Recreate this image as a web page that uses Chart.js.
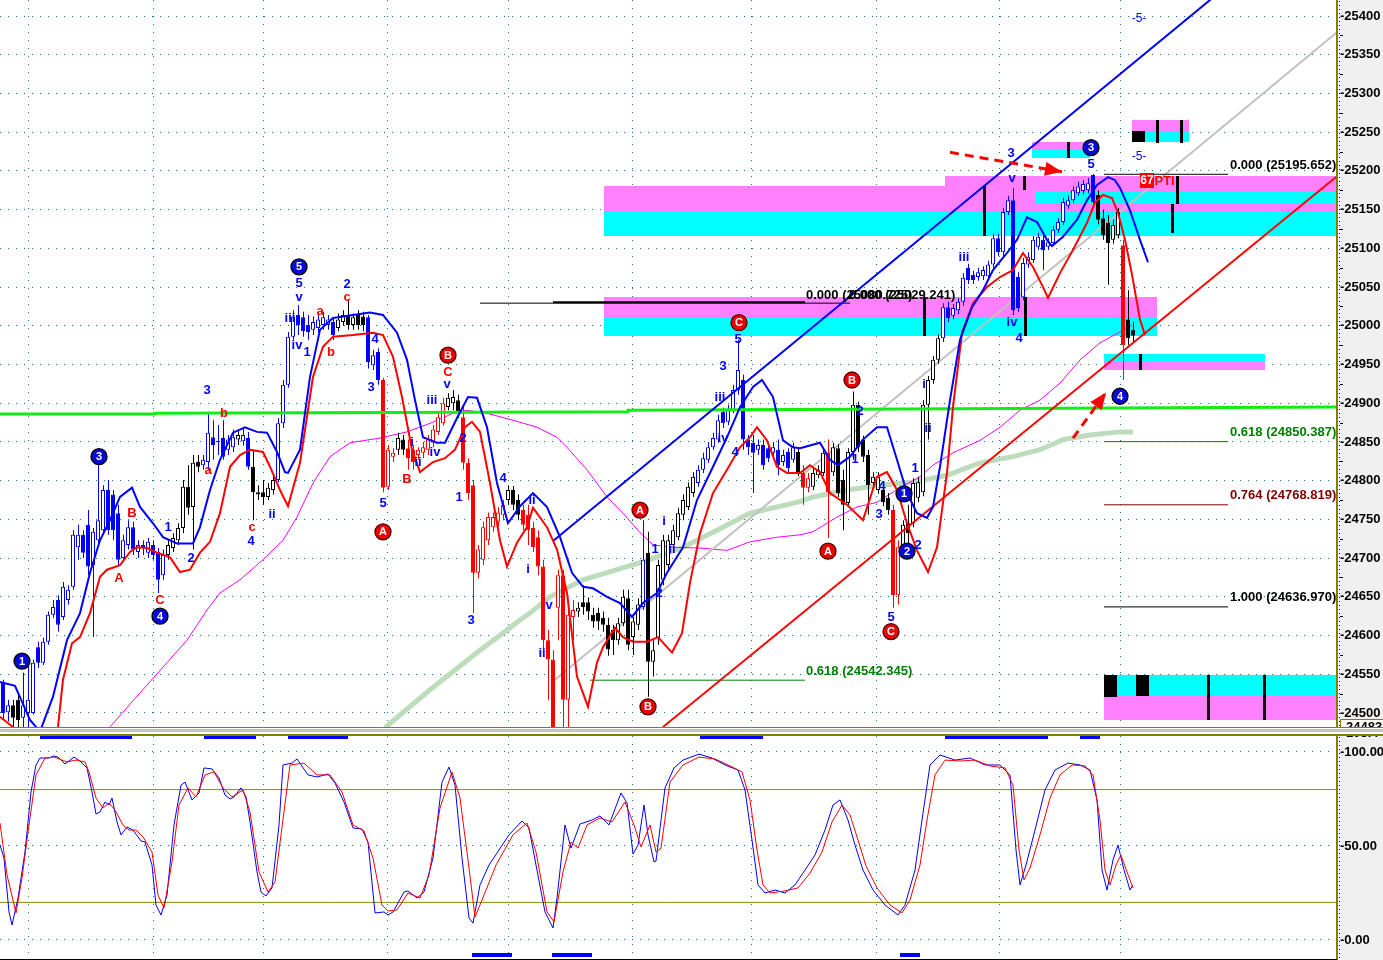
<!DOCTYPE html>
<html>
<head>
<meta charset="utf-8">
<title>Elliott wave count</title>
<script src="https://cdn.jsdelivr.net/npm/chart.js@4.4.1/dist/chart.umd.min.js"></script>
<style>
  html, body { margin: 0; padding: 0; background: #ffffff; }
  #wrap { position: relative; width: 1383px; height: 960px; overflow: hidden; background: #ffffff; }
  canvas { position: absolute; left: 0; }
  #price { top: 0; }
  #stoch { top: 736px; }
  .rule { position: absolute; left: 0; width: 1383px; }
</style>
</head>
<body>
<div id="wrap">
  <canvas id="price" width="1383" height="727"></canvas>
  <div class="rule" style="top:727px;height:1px;background:#808000"></div>
  <div class="rule" style="top:729px;height:3px;background:#c4c4c4"></div>
  <div class="rule" style="top:734px;height:2px;background:#808000"></div>
  <canvas id="stoch" width="1383" height="224"></canvas>
</div>
<script>
// ===== Bars (one entry per bar, index = time) =====
const trend = ("BBKKBBBBBB" + "BBBBBBBBBB" + "BBBBBBBBBB" + "BBBKKKKKKK" + "BBBBBBBKBB" +
  "KKKKKBBBBB" + "BBBBBBBKKK" + "KKKBBBRRRK" + "KRRRRRRRRK" + "KKRRRRRRRR" +
  "RKKKRRRRRR" + "RRRRRKKKKK" + "KKKKKKKKBK" + "KKKKKKKKKB" + "BBBBBBBBBB" +
  "BBBBBBBBBK" + "RRKKKRKKKK" + "KKKKKKKKRR" + "KKKKKKKKBB" + "BBBBBBBBBB" +
  "BBBBBBBBBB" + "BBBBBBBBBK" + "KKKKRKK").split("");

const opens = [
  24539,24501,24510,24517,24494,24500,24500,24585,24565,24592,
  24627,24646,24624,24646,24663,24714,24730,24743,24691,24723,
  24736,24788,24782,24758,24700,24717,24740,24708,24717,24707,
  24717,24708,24678,24704,24713,24723,24739,24792,24766,24824,
  24820,24824,24856,24850,24855,24840,24843,24853,24851,24855,
  24818,24785,24785,24779,24788,24801,24874,24924,24986,25014,
  25011,25001,24995,24997,25001,25001,25005,24997,25005,25013,
  25001,25014,25012,25011,24949,24966,24930,24792,24831,24840,
  24853,24842,24840,24833,24836,24840,24849,24863,24874,24895,
  24900,24904,24882,24823,24794,24681,24698,24723,24740,24747,
  24756,24775,24788,24775,24762,24756,24739,24727,24689,24594,
  24569,24636,24678,24517,24624,24631,24643,24643,24627,24629,
  24623,24614,24607,24594,24616,24648,24598,24614,24637,24707,
  24566,24597,24672,24691,24717,24727,24756,24766,24784,24797,
  24814,24827,24843,24853,24889,24876,24891,24917,24930,24853,
  24849,24840,24846,24842,24836,24840,24824,24837,24827,24837,
  24810,24791,24792,24807,24810,24836,24811,24842,24801,24771,
  24837,24898,24853,24833,24797,24788,24788,24778,24762,24652,
  24717,24745,24745,24778,24785,24898,24930,24956,24984,25024,
  25013,25020,25031,25075,25066,25063,25064,25064,25079,25113,
  25095,25147,25162,25063,25037,25079,25085,25102,25111,25102,
  25107,25124,25134,25155,25162,25171,25174,25175,25195,25169,
  25139,25133,25111,25117,25104,25008,24995];

const highs = [
  24543,24517,24517,24526,24552,24565,24569,24592,24597,24631,
  24646,24652,24669,24665,24736,24743,24736,24762,24739,24823,
  24794,24801,24788,24769,24730,24749,24747,24723,24723,24726,
  24723,24713,24711,24723,24732,24745,24801,24820,24833,24833,
  24833,24889,24878,24872,24878,24859,24866,24866,24868,24863,
  24840,24794,24801,24797,24807,24881,24930,24992,25020,25027,
  25018,25014,25012,25014,25018,25014,25011,25016,25020,25033,
  25016,25020,25018,25014,24969,24971,24933,24846,24842,24862,
  24859,24853,24846,24843,24850,24859,24872,24889,24907,24913,
  24917,24911,24898,24829,24801,24717,24747,24759,24759,24766,
  24775,24794,24793,24782,24769,24769,24747,24736,24698,24607,
  24581,24685,24685,24646,24646,24643,24665,24649,24636,24636,
  24631,24623,24614,24623,24659,24659,24624,24648,24749,24734,
  24594,24698,24730,24730,24743,24765,24782,24798,24811,24820,
  24836,24850,24862,24885,24894,24898,24924,24982,24937,24859,
  24859,24853,24853,24849,24850,24853,24840,24842,24849,24842,
  24820,24810,24816,24820,24842,24853,24849,24847,24814,24842,
  24915,24902,24858,24840,24811,24811,24794,24784,24769,24723,
  24749,24769,24803,24805,24904,24935,24961,24989,25029,25031,
  25028,25036,25068,25080,25071,25075,25077,25084,25119,25119,
  25152,25168,25178,25069,25088,25095,25116,25120,25121,25113,
  25129,25139,25165,25168,25180,25186,25188,25191,25196,25175,
  25150,25143,25137,25152,25111,25046,25005];

const lows = [
  24491,24489,24482,24482,24482,24482,24498,24558,24562,24588,
  24623,24605,24620,24640,24659,24698,24700,24678,24598,24717,
  24730,24730,24723,24691,24695,24711,24704,24700,24704,24700,
  24698,24655,24672,24698,24708,24717,24732,24756,24711,24811,
  24814,24814,24827,24833,24827,24833,24837,24846,24845,24814,
  24749,24775,24769,24775,24782,24798,24868,24920,24982,24988,
  24986,24982,24988,24991,24995,24995,24982,24993,25000,24995,
  24995,24995,24993,24945,24943,24924,24785,24788,24824,24833,
  24833,24814,24814,24827,24829,24833,24843,24859,24871,24891,
  24891,24881,24814,24775,24629,24674,24691,24717,24734,24740,
  24749,24769,24762,24749,24736,24717,24708,24678,24581,24517,
  24465,24594,24481,24478,24594,24624,24627,24620,24610,24607,
  24605,24574,24575,24588,24612,24581,24575,24607,24633,24521,
  24547,24588,24665,24685,24711,24723,24749,24762,24779,24792,
  24810,24823,24840,24849,24868,24872,24887,24911,24840,24833,
  24784,24833,24814,24824,24829,24807,24819,24810,24823,24806,
  24769,24785,24788,24803,24806,24726,24806,24779,24736,24766,
  24827,24837,24824,24756,24792,24783,24767,24756,24636,24640,
  24713,24717,24740,24772,24780,24853,24925,24951,24979,25005,
  25008,25015,25026,25054,25054,25058,25059,25059,25075,25090,
  25090,25143,25014,25018,25033,25075,25081,25098,25072,25098,
  25103,25120,25130,25151,25159,25168,25170,25171,25156,25131,
  25111,25053,25106,25113,24930,24975,24979];

const closes = [
  24500,24510,24494,24491,24510,24517,24565,24565,24592,24627,
  24637,24614,24663,24659,24730,24730,24707,24689,24734,24749,
  24788,24736,24736,24698,24723,24740,24711,24717,24713,24721,
  24704,24672,24704,24717,24726,24739,24792,24765,24823,24818,
  24827,24862,24846,24851,24831,24853,24856,24859,24859,24818,
  24785,24782,24779,24791,24801,24874,24924,24986,25012,25001,
  24993,24992,25005,25008,25011,25008,24988,25008,25014,25001,
  25011,25001,25001,24953,24962,24930,24791,24840,24836,24855,
  24840,24829,24824,24840,24843,24853,24866,24882,24900,24907,
  24908,24887,24823,24784,24681,24711,24740,24753,24753,24759,
  24769,24788,24769,24756,24743,24736,24714,24689,24594,24569,
  24472,24678,24517,24627,24633,24636,24637,24631,24618,24618,
  24614,24582,24594,24616,24650,24588,24618,24640,24698,24566,
  24581,24691,24723,24723,24736,24758,24775,24792,24805,24814,
  24829,24843,24855,24878,24874,24891,24917,24943,24853,24843,
  24836,24846,24820,24829,24843,24820,24833,24816,24843,24811,
  24791,24803,24810,24814,24836,24785,24843,24784,24769,24837,
  24898,24843,24831,24794,24805,24805,24772,24762,24652,24714,
  24743,24732,24797,24798,24898,24930,24956,24984,25024,25010,
  25023,25031,25062,25059,25059,25069,25072,25079,25113,25095,
  25147,25162,25020,25023,25081,25089,25111,25115,25098,25108,
  25124,25134,25160,25162,25175,25180,25183,25184,25160,25137,
  25117,25107,25130,25147,24975,24984,24987];

// ===== Overlay lines: [bar index, price] =====
const bandUpper = [[-0.6,24540],[2.4,24535],[5.4,24491],[7.4,24476],[10,24521],[12.8,24594],[15.4,24629],
  [17.4,24681],[19.4,24723],[21.4,24749],[23.4,24779],[25.8,24791],[27.4,24766],[30,24745],[32,24727],
  [34.8,24719],[38,24719],[39.4,24740],[41.4,24788],[43.4,24827],[46,24862],[48.4,24869],[50.8,24863],
  [52.8,24862],[54.8,24837],[56.4,24811],[57,24810],[59.4,24840],[61.4,24934],[63.4,24995],[66,25010],
  [70,25014],[73.4,25017],[76,25014],[78.8,24991],[80.8,24956],[82.4,24904],[84,24856],[86.8,24849],
  [88.4,24849],[90.8,24881],[93,24908],[94.8,24907],[96.8,24869],[98.8,24797],[101,24745],[103.4,24767],
  [106,24784],[108.8,24766],[111.4,24727],[113.8,24681],[116,24663],[118,24661],[120.8,24650],[123.4,24642],
  [125.8,24624],[128,24642],[130.8,24655],[132.8,24681],[136,24714],[138.8,24775],[142,24818],[144.8,24856],
  [147.4,24895],[150,24921],[151.8,24930],[154,24908],[156,24852],[158,24843],[159.4,24842],[163.4,24849],
  [165.4,24827],[167,24820],[169.4,24831],[172,24853],[174.8,24869],[176.8,24869],[178.8,24827],[180.8,24784],
  [182.8,24758],[184.8,24752],[186,24766],[187.4,24818],[189.4,24904],[191.4,24982],[193.8,25024],[196,25046],
  [198,25072],[200.8,25094],[202.8,25111],[204.8,25140],[206.8,25134],[208.8,25111],[209.8,25103],[212,25115],
  [214.8,25137],[216.8,25162],[218.8,25182],[221,25192],[222.4,25188],[223.4,25178],[225.4,25149],[227.4,25111],
  [229,25082]];

const bandLower = [[-0.6,24495],[2,24482],[5.4,24459],[10.4,24459],[11,24482],[12,24543],[13.8,24590],
  [15.4,24598],[17.4,24629],[19.4,24676],[20.8,24685],[23.4,24691],[25.4,24708],[26.8,24714],[28.8,24713],
  [30.8,24707],[33.4,24701],[35.4,24682],[37.4,24685],[39.4,24707],[41.4,24721],[43.4,24758],[45.4,24818],
  [47.4,24833],[49.4,24840],[52,24837],[53.4,24818],[55.4,24788],[57,24767],[59.4,24823],[62,24934],
  [64,24973],[66,24986],[70,24988],[74,24991],[76,24988],[78,24960],[79.8,24908],[81.8,24840],[83.4,24811],
  [86,24824],[88.4,24829],[90.4,24840],[92.4,24869],[93.8,24876],[95.4,24863],[97.4,24797],[99.4,24723],
  [100.8,24689],[102.8,24720],[104.8,24740],[106,24765],[108.8,24740],[110.8,24711],[112.8,24655],
  [114.8,24547],[117,24508],[118.8,24565],[120,24585],[122.4,24610],[124,24598],[126,24592],[128.8,24592],
  [131,24598],[132.8,24585],[133.8,24578],[135.8,24603],[137.4,24668],[139.4,24732],[142,24784],[144.8,24814],
  [147.4,24843],[149.4,24856],[150.8,24869],[152.8,24852],[154.8,24818],[156.8,24810],[159.4,24810],
  [161.4,24820],[163.4,24811],[165.4,24784],[168.8,24769],[172,24749],[174.8,24805],[176.8,24811],
  [178.8,24788],[180.8,24745],[182.8,24710],[185,24682],[186.8,24714],[188.8,24810],[190,24895],[191.8,24991],
  [194,25029],[196.8,25050],[199.4,25063],[202,25072],[204,25094],[206,25076],[208,25050],[209,25036],
  [211.4,25068],[214,25098],[216.8,25133],[218.4,25159],[220,25169],[221.8,25165],[223,25146],[224.4,25111],
  [225.8,25066],[227.4,25008],[228.4,24988]];

const maSlow = [[21.4,24482],[27.4,24526],[32.8,24565],[36.8,24594],[40.8,24633],[43.4,24655],[47.4,24672],
  [52,24698],[56,24723],[58.8,24753],[62,24797],[65.4,24831],[69.4,24849],[75.4,24855],[80.8,24863],
  [85.4,24874],[90,24887],[92.8,24891],[96.8,24887],[102,24878],[106.8,24869],[110.8,24856],[112.8,24843],
  [116.8,24814],[120.8,24779],[124,24758],[127.4,24733],[130,24717],[134,24714],[139.4,24713],[144.8,24710],
  [149.4,24721],[154.8,24727],[159.4,24730],[162,24734],[166.8,24753],[170.8,24766],[174.8,24772],
  [179.4,24791],[183.4,24805],[186,24820],[190,24836],[195.4,24852],[199.4,24869],[203.4,24891],[207.4,24904],
  [211.4,24926],[215.4,24956],[219.4,24978],[223.4,24992],[225.8,25001]];

const maLong = [[76.4,24481],[85.4,24530],[95.4,24581],[100.8,24607],[103.4,24620],[105.4,24629],
  [109.4,24650],[116,24672],[122.8,24685],[129.4,24698],[136,24714],[142.8,24736],[149.4,24758],
  [154.8,24766],[159.4,24773],[162,24779],[168.8,24788],[175.4,24794],[182,24798],[188.8,24807],
  [195.4,24823],[202,24831],[207.4,24840],[212,24853],[217.4,24859],[223.4,24863],[226,24863]];

const regressionLine = [[110.4,24543],[266.8,25379]];
const channelUpper = [[110,24722],[242.4,25426]];
const channelLower = [[132,24482],[266.8,25193]];
const keyLevel = [[-0.6,24886],[30.4,24886],[30.4,24887],[125,24889],[125,24891],[266.8,24895]];
const arrowDown = [[189.4,25224],[211.8,25199]];
const arrowUp = [[214,24855],[220.6,24914]];

// ===== Fibonacci levels =====
const fibRightRatios = ["0.000", "0.618", "0.764", "1.000"];
const fibRightPrices = [25195.652, 24850.387, 24768.819, 24636.970];
const fibRightSpan = [220.2, 245];
const fibLeftRatios = ["0.618", "0.000", "0.000"];
const fibLeftPrices = [24542.345, 25029.241, 25080.725];

// ===== Zones: [from bar, to bar, top price, bottom price, kind] =====
const zones = [
  [120.2, 266.8, 25181, 25147, "p"], [120.2, 266.8, 25147, 25116, "c"],
  [188.4, 266.8, 25193, 25173, "p"], [206.6, 266.8, 25173, 25157, "c"],
  [120.2, 230.8, 25037, 25011, "p"], [120.2, 230.8, 25011, 24987, "c"],
  [205.8, 217.4, 25237, 25227, "p"], [205.8, 217.4, 25227, 25217, "c"],
  [225.8, 237.2, 25266, 25252, "p"], [225.8, 237.2, 25252, 25237, "c"], [225.8, 228.4, 25252, 25237, "k"],
  [220.2, 252.4, 24964, 24953, "c"], [220.2, 252.4, 24953, 24943, "p"],
  [220.2, 266.8, 24549, 24522, "c"], [220.2, 266.8, 24522, 24491, "p"],
  [220.2, 222.8, 24549, 24520, "k"], [226.6, 229.2, 24549, 24522, "k"]];
const zoneTicks = [[196.2, 25181, 25116], [204.2, 25193, 25175], [213, 25237, 25217], [184.2, 25037, 24987],
  [204.4, 25037, 24987], [230.8, 25266, 25236], [235.6, 25266, 25236], [234.8, 25193, 25157],
  [233.8, 25157, 25120], [227.4, 24964, 24943], [241, 24549, 24491], [252.2, 24549, 24491]];

// ===== Wave labels: [bar index, price, text] =====
const blueCircles = [[3.8,24567,"1"],[19.2,24831,"3"],[31.4,24625,"4"],[59.2,25076,"5"],
  [180.2,24783,"1"],[180.8,24709,"2"],[217.6,25230,"3"],[223.4,24909,"4"]];
const redCircles = [[76,24734,"A"],[89,24962,"B"],[147.2,25004,"C"],[127.4,24762,"A"],
  [129,24508,"B"],[169.8,24930,"B"],[165,24709,"A"],[177.6,24605,"C"]];
const blueLabels = [
  [40.8,24916,"3"],[33,24740,"1"],[37.6,24700,"2"],[49.6,24721,"4"],[53.8,24756,"ii"],
  [59.2,25055,"5"],[59.2,25037,"v"],[57.4,25010,"iii"],[58.8,24975,"iv"],[60.8,24965,"1"],
  [68.8,25054,"2"],[74.4,24982,"4"],[73.6,24921,"3"],[76,24771,"5"],
  [81.8,24850,"i"],[83,24823,"ii"],[85.8,24904,"iii"],[86.4,24837,"iv"],[88.8,24924,"v"],
  [92,24855,"2"],[91.2,24778,"1"],[93.6,24620,"3"],[100,24803,"4"],[105,24685,"i"],[105.8,24775,"ii"],
  [109.2,24639,"v"],[107.8,24577,"ii"],[130.4,24711,"1"],[132.2,24747,"i"],[133.8,24711,"ii"],[131.2,24654,"2"],
  [144,24947,"3"],[147,24982,"5"],[143.4,24908,"iii"],[144,24855,"iv"],[146.4,24837,"4"],
  [171.4,24889,"2"],[170.4,24827,"1"],[175.8,24792,"4"],[175.2,24756,"3"],[177.6,24624,"5"],
  [182.4,24816,"1"],[183,24717,"2"],[184.2,24924,"i"],[185,24867,"ii"],[192.2,25088,"iii"],
  [201.8,25190,"v"],[201.8,25004,"iv"],[203.2,24984,"4"],[201.6,25223,"3"],[217.6,25208,"5"]];
const redLabels = [[23.2,24674,"A"],[25.8,24758,"B"],[31.4,24646,"C"],[41,24813,"a"],[44.2,24887,"b"],
  [49.8,24739,"c"],[63.4,25018,"a"],[65.6,24966,"b"],[68.8,25037,"c"],[80.8,24801,"B"],[89,24940,"C"]];
const cycleMarks = [[227.2, 25397, "-5-"], [227.2, 25218, "-5-"]];

// ===== Axis values =====
const priceTicks = [24500,24550,24600,24650,24700,24750,24800,24850,24900,24950,
  25000,25050,25100,25150,25200,25250,25300,25350,25400];
const stochTicks = [0, 50, 100];
const stochBands = [20, 80];
const timeGrid = [5.2, 30.2, 52.2, 77, 101.2, 126, 149.8, 174.8, 199.4, 223.6];

// ===== Stochastic: [bar index, value] =====
const stochK = [[-0.6,50.5],[0.2,43.6],[1.2,14.9],[1.8,8],[3,22.3],[4.4,46.8],[5.6,78.7],[6.6,93.1],
  [7.4,96.8],[9.2,96.8],[10.2,97.9],[11,97.3],[12.4,93.6],[14.2,97.3],[15.4,95.2],[16.8,91.5],[17.8,78.7],
  [18.6,67],[19.4,68.1],[20.4,73.4],[21.2,71.8],[21.8,75.5],[22.8,62.8],[23.6,55.9],[24.8,60.1],[26,58.5],
  [27.6,52.7],[28.4,52.1],[29.8,39.9],[30.6,18.6],[31.6,13.3],[32.8,23.9],[34.2,61.2],[35.6,82.4],[36.4,84],
  [37.8,74.5],[39.2,78.2],[40.2,91.5],[41.8,91],[43.2,86.2],[44.4,77.1],[45.4,75],[46.2,76.1],[47.6,80.9],
  [48.6,76.1],[49.4,62.8],[50.8,36.2],[51.6,25.5],[52.6,23.4],[53.8,27.7],[55.2,61.2],[56,93.1],[57.8,94.1],
  [58.8,96.3],[61,87.8],[62.8,86.7],[65,88.3],[66.4,83.5],[68.2,73.4],[70,59.6],[71.8,59],[73,52.1],
  [74.4,14.4],[76.2,14.9],[77,13.3],[78,14.9],[80.2,25.5],[81,26.1],[82.8,22.3],[84.2,25.5],[86,43.6],
  [87.8,84],[89.2,92],[90.4,82.4],[91.8,43.6],[93.2,11.7],[94,9],[95.4,29.3],[97.2,39.9],[101.2,55.9],
  [103.8,63.3],[105.2,59.6],[106.6,39.9],[108.4,14.9],[110,6.4],[110.8,22.3],[112.4,61.2],[113.6,48.9],
  [115.4,61.7],[117.8,63.8],[119.4,66],[121.2,61.2],[123.6,78.2],[124.8,72.9],[126,45.7],[127,50.5],
  [128.2,71.8],[129,55.9],[130.2,41.5],[130.6,42],[132.4,80.9],[134.2,91.5],[136,95.7],[139.2,98.9],
  [141.8,96.8],[144.4,93.1],[147,90.4],[148.4,79.8],[149.8,53.2],[151,29.3],[152.4,25],[154.4,26.6],
  [156.4,25],[158.4,29.3],[160.4,37.2],[162.4,45.2],[164.4,58.5],[166,71.8],[167.4,74.5],[169,63.8],
  [170.4,50.5],[172,37.2],[174,26.6],[176.4,18.6],[179,13.3],[180.4,18.6],[182.4,37.2],[183.8,63.8],
  [185.4,93.1],[187.4,98.4],[190.4,95.7],[193.4,96.8],[196.4,93.1],[199.4,93.1],[201.4,87.8],[202.6,47.9],
  [203.4,29.3],[204.6,39.9],[206.4,58.5],[208.4,79.8],[210.4,90.4],[213,94.1],[215.4,93.1],[217.4,90.4],
  [218.8,74.5],[219.8,37.2],[220.8,26.6],[222,42.6],[223,50.5],[224.2,37.2],[225.4,26.6],[226,29.3]];

const stochD = [[-0.6,62.2],[0.8,34.6],[2.6,14.4],[3.8,33],[5.2,61.2],[6.6,87.8],[8.4,96.8],[10.2,97.3],
  [12.8,94.7],[14.6,95.7],[16.4,94.7],[17.2,89.4],[18.6,75.5],[20,70.2],[21.2,72.9],[22.4,69.1],[24,61.2],
  [25.2,58.5],[26.6,58.5],[28,54.8],[29.8,46.8],[31,23.9],[32.2,17],[33.8,41.5],[35.2,71.8],[37,80.9],
  [38.6,76.1],[40.4,87.8],[42.2,89.4],[44,80.9],[45.8,76.1],[48,79.8],[49.4,68.1],[51.2,36.2],[53,25.5],
  [54.4,30.9],[55.6,55.9],[57.4,93.1],[60.2,94.1],[62.8,87.8],[65.4,87.8],[67.8,78.7],[70,61.2],[72.2,58],
  [74,43.6],[75.8,18.6],[77,15.4],[78.8,16],[81,25],[83.4,22.3],[85.2,34.6],[87.4,70.2],[89.8,89.4],
  [91.4,75.5],[93.2,38.3],[94.4,12.2],[96.2,23.9],[98.6,39.9],[102,55.9],[104.8,62.2],[106.6,46.8],
  [108.8,14.9],[110.2,9.6],[112,36.2],[113.6,52.1],[115,48.9],[116.8,61.2],[119.4,64.9],[121.8,62.8],
  [124.4,73.4],[126.2,61.2],[127.6,49.5],[129.4,61.2],[130.6,46.8],[131.6,48.9],[133.4,84],[136,93.1],
  [139.2,97.3],[142.4,96.3],[145.4,92.6],[147.8,89.4],[149.4,74.5],[150.8,47.9],[152,29.3],[153.4,25],
  [156.4,26.1],[159,27.7],[161.4,35.6],[163.8,46.8],[165.8,62.8],[167.8,71.8],[169.4,66.5],[171,53.2],
  [172.6,39.4],[174.8,27.7],[177.4,18.6],[179.8,14.4],[181.4,21.3],[183.4,39.9],[184.8,63.8],[186.4,87.8],
  [188.4,95.7],[191.4,95.2],[194.4,95.7],[197.4,92.6],[200.4,91.5],[202,82.4],[203.2,47.9],[204.2,31.9],
  [205.4,38.3],[207.4,55.9],[209.4,75.5],[211.4,87.8],[213.8,93.1],[216.4,92.6],[218,87.8],[219.4,63.8],
  [220.4,37.2],[221.4,29.3],[222.6,39.9],[223.6,45.2],[224.8,36.2],[226,27.7]];

// signal markers between and under the panels: [from bar, to bar]
const signalTop = [[7.4,25.8],[40.2,50.6],[57,69],[139.4,152],[188.4,209],[215.4,219.4]];
const signalBottom = [[93.8,101.8],[109.8,117.8],[179.4,183.4]];

// ===== Look =====
const X_MIN = -0.6, X_MAX = 266.8;
const WICK_SHIFT = 0.1; // half a pixel so 1px wicks land on a pixel column
const tone = { B: "#0000ff", R: "#ff0000", K: "#000000" };
const zoneFill = { p: "#ff80ff", c: "#00ffff", k: "#000000" };
const FONT = "Liberation Sans";
const boldFont = (s) => `bold ${s}px "${FONT}"`;
Chart.defaults.font.family = FONT;

const pts = (arr) => arr.map(([x, y]) => ({ x, y }));
const isUp = (i) => closes[i] >= opens[i];

function lineSet(data, color, width, order, extra) {
  return Object.assign({ type: "line", data: pts(data), borderColor: color, borderWidth: width,
    pointRadius: 0, tension: 0, fill: false, order }, extra || {});
}

function xScale() {
  return {
    type: "linear", min: X_MIN, max: X_MAX, offset: false,
    ticks: { display: false },
    grid: { color: "#008080", drawTicks: false, offset: false },
    border: { display: false, dash: [1, 7] },
    afterBuildTicks: (s) => { s.ticks = timeGrid.map((v) => ({ value: v })); },
    afterFit: (s) => { s.height = 0; s.paddingLeft = 0; s.paddingRight = 0; },
  };
}

function yScale(min, max, ticks, fmt) {
  return {
    type: "linear", position: "right", min, max,
    ticks: { color: "#000", font: { size: 13, weight: "bold" }, padding: 3, autoSkip: false,
      callback: fmt },
    grid: { color: "#008080", drawTicks: false },
    border: { display: false, dash: [1, 7] },
    afterBuildTicks: (s) => { s.ticks = ticks.map((v) => ({ value: v })); },
    afterFit: (s) => { s.width = 46; s.paddingTop = 0; s.paddingBottom = 0; },
  };
}

function drawText(ctx, x, y, text, color, font, align) {
  ctx.font = font;
  ctx.fillStyle = color;
  ctx.textAlign = align || "center";
  ctx.textBaseline = "middle";
  ctx.fillText(text, x, y);
}

function drawCircle(ctx, x, y, text, fill, ring) {
  ctx.beginPath();
  ctx.arc(x, y, 8, 0, Math.PI * 2);
  ctx.fillStyle = fill;
  ctx.fill();
  ctx.lineWidth = 1.3;
  ctx.strokeStyle = ring;
  ctx.stroke();
  drawText(ctx, x, y + 0.5, text, "#ffffff", boldFont(11));
}

function arrowHead(ctx, x0, y0, x1, y1) {
  const a = Math.atan2(y1 - y0, x1 - x0), L = 17, W = 7;
  ctx.beginPath();
  ctx.moveTo(x1, y1);
  ctx.lineTo(x1 - L * Math.cos(a) + W * Math.sin(a), y1 - L * Math.sin(a) - W * Math.cos(a));
  ctx.lineTo(x1 - L * Math.cos(a) - W * Math.sin(a), y1 - L * Math.sin(a) + W * Math.cos(a));
  ctx.closePath();
  ctx.fill();
}

function axisFrame(chart) {
  const { ctx, chartArea } = chart;
  ctx.fillStyle = "#808000";
  ctx.fillRect(chartArea.right - 1, 0, 2, chart.height);
  ctx.fillStyle = "#000000";
  for (let y = 1; y < chart.height; y += 4) ctx.fillRect(chartArea.right + 2, y, 1, 1);
}

// ===== Price panel =====
const pricePlugin = {
  id: "priceDecor",
  beforeDraw(chart) {
    const { ctx, chartArea } = chart;
    ctx.save();
    ctx.fillStyle = "#ffffff";
    ctx.fillRect(0, 0, chart.width, chart.height);
    ctx.fillStyle = "#f0f0f0";
    ctx.fillRect(chartArea.right + 3, 0, chart.width, chart.height);
    ctx.restore();
  },
  beforeDatasetsDraw(chart) {
    const { ctx } = chart;
    const xs = chart.scales.x, ys = chart.scales.y;
    ctx.save();
    zones.forEach(([x1, x2, p1, p2, k]) => {
      const a = Math.round(xs.getPixelForValue(x1)), b = Math.round(xs.getPixelForValue(x2));
      const t = Math.round(ys.getPixelForValue(p1)), u = Math.round(ys.getPixelForValue(p2));
      ctx.fillStyle = zoneFill[k];
      ctx.fillRect(a, t, b - a, u - t);
    });
    ctx.fillStyle = "#000000";
    zoneTicks.forEach(([x, p1, p2]) => {
      const a = Math.round(xs.getPixelForValue(x));
      const t = Math.round(ys.getPixelForValue(p1)), u = Math.round(ys.getPixelForValue(p2));
      ctx.fillRect(a - 1, t, 3, u - t);
    });
    ctx.restore();
  },
  afterDatasetsDraw(chart) {
    const { ctx, chartArea } = chart;
    const xs = chart.scales.x, ys = chart.scales.y;
    const X = (v) => xs.getPixelForValue(v), Y = (v) => ys.getPixelForValue(v);
    ctx.save();
    ctx.beginPath();
    ctx.rect(chartArea.left, chartArea.top, chartArea.right - chartArea.left, chartArea.bottom - chartArea.top);
    ctx.clip();

    // fib texts
    const fibColor = ["#000000", "#008000", "#800000", "#000000"];
    fibRightPrices.forEach((p, i) => {
      drawText(ctx, X(245.4), Y(p) - 9, `${fibRightRatios[i]} (${p.toFixed(3)})`, fibColor[i], boldFont(13), "left");
    });
    drawText(ctx, X(160.6), Y(fibLeftPrices[0]) - 9, `${fibLeftRatios[0]} (${fibLeftPrices[0].toFixed(3)})`, "#008000", boldFont(13), "left");
    drawText(ctx, X(160.6), Y(fibLeftPrices[1]) - 8, `${fibLeftRatios[2]} (${fibLeftPrices[2].toFixed(3)})`, "#000000", boldFont(13), "left");
    drawText(ctx, X(169.2), Y(fibLeftPrices[1]) - 8, `${fibLeftRatios[1]} (${fibLeftPrices[1].toFixed(3)})`, "#000000", boldFont(13), "left");

    // arrowheads
    ctx.fillStyle = "#ff0000";
    [arrowDown, arrowUp].forEach((a) => {
      arrowHead(ctx, X(a[0][0]), Y(a[0][1]), X(a[1][0]), Y(a[1][1]));
    });

    // wave labels
    blueLabels.forEach(([x, p, t]) => drawText(ctx, X(x), Y(p), t, "#0000ff", boldFont(13)));
    redLabels.forEach(([x, p, t]) => drawText(ctx, X(x), Y(p), t, "#ff0000", boldFont(13)));
    blueCircles.forEach(([x, p, t]) => drawCircle(ctx, X(x), Y(p), t, "#0808d8", "#000000"));
    redCircles.forEach(([x, p, t]) => drawCircle(ctx, X(x), Y(p), t, "#ee0000", "#500000"));
    cycleMarks.forEach(([x, p, t]) => drawText(ctx, X(x), Y(p), t, "#0000ff", `12px "${FONT}"`));

    // time counter tag
    const tx = X(227.4), ty = Y(25197);
    ctx.fillStyle = "#ff0000";
    ctx.fillRect(Math.round(tx), Math.round(ty), Math.round(X(230.2) - tx), Math.round(Y(25177) - ty));
    drawText(ctx, (tx + X(230.2)) / 2, Y(25187), "67", "#ffffff", boldFont(12));
    drawText(ctx, X(230.3), Y(25187), "PTI", "#ff0000", boldFont(13), "left");
    ctx.restore();
  },
  afterDraw(chart) {
    const { ctx, chartArea } = chart;
    const ys = chart.scales.y;
    ctx.save();
    axisFrame(chart);
    ctx.fillStyle = "#000000";
    for (let i = 0; i + 1 < priceTicks.length; i++) {
      const y = Math.round(ys.getPixelForValue((priceTicks[i] + priceTicks[i + 1]) / 2));
      ctx.fillRect(chartArea.right + 3, y, 3, 1);
    }
    // last value tag, cut by the panel edge
    ctx.fillStyle = "#ffffff";
    ctx.fillRect(chartArea.right + 3, chart.height - 7, 43, 7);
    ctx.strokeStyle = "#808000";
    ctx.lineWidth = 1;
    ctx.strokeRect(chartArea.right + 3.5, chart.height - 7.5, 43, 9);
    ctx.font = boldFont(13);
    ctx.fillStyle = "#000000";
    ctx.textAlign = "left";
    ctx.textBaseline = "top";
    ctx.fillText("24483", chartArea.right + 9, chart.height - 6);
    ctx.restore();
  },
};

const bodies = opens.map((o, i) => ({ x: i, y: [o, closes[i]] }));
const wicks = opens.map((o, i) => ({ x: i + WICK_SHIFT, y: [lows[i], highs[i]] }));

const priceDatasets = [
  { type: "bar", data: wicks, barThickness: 1, grouped: false, order: 15, borderWidth: 0, inflateAmount: 0,
    backgroundColor: (c) => tone[trend[c.dataIndex]] },
  { type: "bar", data: bodies, barThickness: 4, grouped: false, order: 14, borderWidth: 1, borderSkipped: false,
    inflateAmount: 0, minBarLength: 1,
    backgroundColor: (c) => (isUp(c.dataIndex) ? "#ffffff" : tone[trend[c.dataIndex]]),
    borderColor: (c) => tone[trend[c.dataIndex]] },
  lineSet(maLong, "#bcdcbc", 5, 20),
  lineSet(maSlow, "#ff00ff", 1, 19),
  lineSet(regressionLine, "#c0c0c0", 2, 18),
  lineSet([[fibRightSpan[0], fibRightPrices[0]], [fibRightSpan[1], fibRightPrices[0]]], "#000000", 1, 12),
  lineSet([[fibRightSpan[0], fibRightPrices[1]], [fibRightSpan[1], fibRightPrices[1]]], "#008000", 1, 12),
  lineSet([[fibRightSpan[0], fibRightPrices[2]], [fibRightSpan[1], fibRightPrices[2]]], "#800000", 1, 12),
  lineSet([[fibRightSpan[0], fibRightPrices[3]], [fibRightSpan[1], fibRightPrices[3]]], "#000000", 1, 12),
  lineSet([[117.4, fibLeftPrices[0]], [160.4, fibLeftPrices[0]]], "#008000", 1, 12),
  lineSet([[95.4, fibLeftPrices[1]], [169.4, fibLeftPrices[1]]], "#000000", 1, 12),
  lineSet([[110, fibLeftPrices[1] + 1], [160.4, fibLeftPrices[1] + 1]], "#000000", 2, 12),
  lineSet(keyLevel, "#11ee11", 3, 11),
  lineSet(channelUpper, "#0000ff", 2, 10),
  lineSet(channelLower, "#ff0000", 2, 10),
  lineSet(bandLower, "#ff0000", 2, 9),
  lineSet(bandUpper, "#0000ff", 2, 8),
  lineSet(arrowDown, "#ff0000", 3, 5, { borderDash: [9, 6] }),
  lineSet(arrowUp, "#ff0000", 3, 5, { borderDash: [9, 6] }),
];

new Chart(document.getElementById("price"), {
  type: "bar",
  data: { datasets: priceDatasets },
  options: {
    responsive: false, animation: false, events: [],
    layout: { padding: 0 },
    plugins: { legend: { display: false }, tooltip: { enabled: false } },
    scales: {
      x: xScale(),
      y: yScale(24481.9, 25420.7, priceTicks, (v) => "-" + v),
    },
  },
  plugins: [pricePlugin],
});

// ===== Stochastic panel =====
const stochPlugin = {
  id: "stochDecor",
  beforeDraw(chart) {
    const { ctx, chartArea } = chart;
    ctx.save();
    ctx.fillStyle = "#ffffff";
    ctx.fillRect(0, 0, chart.width, chart.height);
    ctx.fillStyle = "#f0f0f0";
    ctx.fillRect(chartArea.right + 3, 0, chart.width, chart.height);
    ctx.restore();
  },
  afterDraw(chart) {
    const { ctx, chartArea } = chart;
    const xs = chart.scales.x;
    ctx.save();
    axisFrame(chart);
    ctx.fillStyle = "#0000ff";
    signalTop.forEach(([a, b]) => {
      const x1 = Math.round(xs.getPixelForValue(a)), x2 = Math.round(xs.getPixelForValue(b));
      ctx.fillRect(x1, 0, x2 - x1, 3);
    });
    signalBottom.forEach(([a, b]) => {
      const x1 = Math.round(xs.getPixelForValue(a)), x2 = Math.round(xs.getPixelForValue(b));
      ctx.fillRect(x1, chart.height - 7, x2 - x1, 4);
    });
    ctx.fillStyle = "#000000";
    ctx.fillRect(0, chart.height - 1, chartArea.right, 1);
    ctx.font = boldFont(13);
    ctx.textAlign = "left";
    ctx.textBaseline = "bottom";
    ctx.fillText("105.4", chartArea.right + 9, 4);
    ctx.restore();
  },
};

new Chart(document.getElementById("stoch"), {
  type: "line",
  data: {
    datasets: [
      lineSet([[X_MIN, stochBands[1]], [X_MAX, stochBands[1]]], "#8c8c00", 1, 5),
      lineSet([[X_MIN, stochBands[0]], [X_MAX, stochBands[0]]], "#8c8c00", 1, 5),
      lineSet(stochK, "#0000ff", 1, 3),
      lineSet(stochD, "#ff0000", 1, 2),
    ],
  },
  options: {
    responsive: false, animation: false, events: [],
    layout: { padding: 0 },
    plugins: { legend: { display: false }, tooltip: { enabled: false } },
    scales: {
      x: xScale(),
      y: yScale(-10.64, 108.51, stochTicks, (v) => "-" + v.toFixed(2)),
    },
  },
  plugins: [stochPlugin],
});
</script>
</body>
</html>
